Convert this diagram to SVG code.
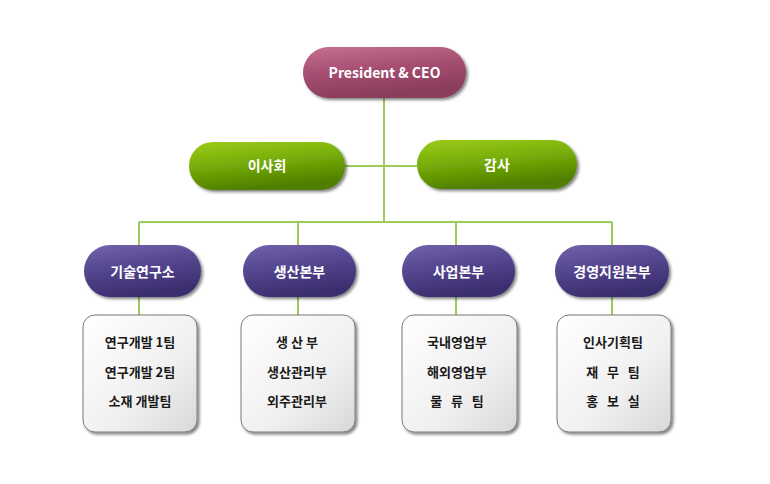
<svg xmlns="http://www.w3.org/2000/svg" width="770" height="484" viewBox="0 0 770 484">
<defs>
<linearGradient id="gPink" x1="0" y1="0" x2="0.3" y2="1">
<stop offset="0" stop-color="#c7708f"/>
<stop offset="0.5" stop-color="#a64e72"/>
<stop offset="1" stop-color="#8a3c5c"/>
</linearGradient>
<linearGradient id="gGreen" x1="0" y1="0" x2="0.3" y2="1">
<stop offset="0" stop-color="#9ccc1a"/>
<stop offset="0.5" stop-color="#76ac08"/>
<stop offset="1" stop-color="#4f7e00"/>
</linearGradient>
<linearGradient id="gPurple" x1="0" y1="0" x2="0.3" y2="1">
<stop offset="0" stop-color="#7263ad"/>
<stop offset="0.5" stop-color="#54458f"/>
<stop offset="1" stop-color="#3b2e6e"/>
</linearGradient>
<linearGradient id="gBox" x1="0" y1="0" x2="1" y2="1">
<stop offset="0" stop-color="#ffffff"/>
<stop offset="0.6" stop-color="#f0f0f0"/>
<stop offset="1" stop-color="#d8d8d8"/>
</linearGradient>
<filter id="sh" x="-10%" y="-10%" width="125%" height="130%">
<feGaussianBlur in="SourceAlpha" stdDeviation="1.5"/>
<feOffset dx="2" dy="2" result="b"/>
<feComponentTransfer><feFuncA type="linear" slope="0.5"/></feComponentTransfer>
<feMerge><feMergeNode/><feMergeNode in="SourceGraphic"/></feMerge>
</filter>
</defs>
<style>
.ln{stroke:#9dcb5b;stroke-width:2;fill:none}
.pill text{font-family:"Noto Sans CJK KR","Noto Sans",sans-serif;font-weight:bold;font-size:14px;fill:#ffffff;text-anchor:middle}
.box rect{fill:url(#gBox);stroke:#7a7a7a;stroke-width:1}
.box text{font-family:"Noto Sans CJK KR",sans-serif;font-weight:bold;font-size:13px;fill:#1a1a1a;text-anchor:middle}
</style>
<rect width="770" height="484" fill="#ffffff"/>
<g id="connectors">
<path class="ln" d="M384 98 V222"/>
<path class="ln" d="M345 166 H417"/>
<path class="ln" d="M139 222 H612"/>
<path class="ln" d="M139 222 V245 M298 222 V245 M456 222 V245 M612 222 V245"/>
<path class="ln" d="M139 297 V315 M298 297 V315 M456 297 V315 M612 297 V315"/>
</g>
<g id="ceo" class="pill"><rect x="303" y="47" width="163" height="51" rx="25.5" fill="url(#gPink)" filter="url(#sh)"/><text x="384.5" y="78">President &amp; CEO</text></g>
<g id="board" class="pill"><rect x="189" y="142" width="156" height="48" rx="24" fill="url(#gGreen)" filter="url(#sh)"/><text x="267" y="171">이사회</text></g>
<g id="audit" class="pill"><rect x="417" y="140" width="160" height="49" rx="24.5" fill="url(#gGreen)" filter="url(#sh)"/><text x="497" y="170">감사</text></g>
<g id="rnd" class="pill"><rect x="84" y="245" width="117" height="52" rx="26" fill="url(#gPurple)" filter="url(#sh)"/><text x="142.5" y="277">기술연구소</text></g>
<g id="prod" class="pill"><rect x="243" y="245" width="113" height="52" rx="26" fill="url(#gPurple)" filter="url(#sh)"/><text x="299.5" y="277">생산본부</text></g>
<g id="biz" class="pill"><rect x="402" y="245" width="113" height="52" rx="26" fill="url(#gPurple)" filter="url(#sh)"/><text x="458.5" y="277">사업본부</text></g>
<g id="mgmt" class="pill"><rect x="555" y="245" width="114" height="52" rx="26" fill="url(#gPurple)" filter="url(#sh)"/><text x="612" y="277">경영지원본부</text></g>
<g id="box-rnd" class="box"><rect x="83" y="315" width="114" height="117" rx="12" filter="url(#sh)"/><text x="140" y="347">연구개발 1팀</text><text x="140" y="377">연구개발 2팀</text><text x="140" y="406">소재 개발팀</text></g>
<g id="box-prod" class="box"><rect x="241" y="315" width="114" height="117" rx="12" filter="url(#sh)"/><text x="297" y="347" xml:space="preserve">생 산 부</text><text x="297" y="377">생산관리부</text><text x="297" y="406">외주관리부</text></g>
<g id="box-biz" class="box"><rect x="402" y="315" width="115" height="117" rx="12" filter="url(#sh)"/><text x="457" y="347">국내영업부</text><text x="457" y="377">해외영업부</text><text x="457" y="406" xml:space="preserve">물   류   팀</text></g>
<g id="box-mgmt" class="box"><rect x="557" y="315" width="114" height="117" rx="12" filter="url(#sh)"/><text x="613" y="347">인사기획팀</text><text x="613" y="377" xml:space="preserve">재   무   팀</text><text x="613" y="406" xml:space="preserve">홍   보   실</text></g>
</svg>
